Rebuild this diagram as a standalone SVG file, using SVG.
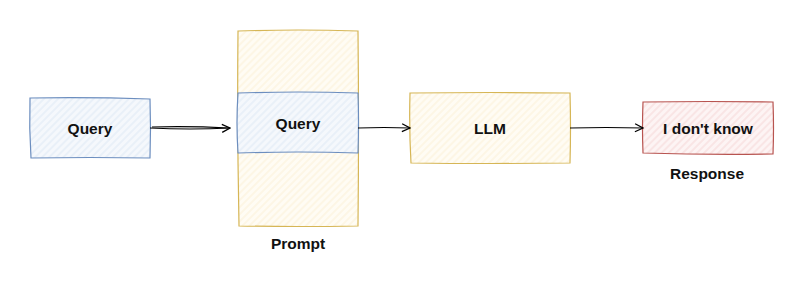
<svg xmlns="http://www.w3.org/2000/svg" width="803" height="282" viewBox="0 0 803 282">
  <defs>
    <pattern id="hb" width="5" height="5" patternUnits="userSpaceOnUse" patternTransform="rotate(45)">
      <rect width="5" height="5" fill="#f5f8fc"/>
      <line x1="1" y1="0" x2="1" y2="5" stroke="#e2ebf6" stroke-width="1.2"/>
    </pattern>
    <pattern id="hy" width="5" height="5" patternUnits="userSpaceOnUse" patternTransform="rotate(45)">
      <rect width="5" height="5" fill="#fffcf4"/>
      <line x1="1" y1="0" x2="1" y2="5" stroke="#fdf3dc" stroke-width="1.2"/>
    </pattern>
    <pattern id="hr" width="5" height="5" patternUnits="userSpaceOnUse" patternTransform="rotate(45)">
      <rect width="5" height="5" fill="#fdf4f4"/>
      <line x1="1" y1="0" x2="1" y2="5" stroke="#f7dcdb" stroke-width="1.2"/>
    </pattern>
    <marker id="arr" viewBox="0 0 10 10" refX="9" refY="5" markerWidth="10" markerHeight="10" markerUnits="userSpaceOnUse" orient="auto">
      <path d="M1,1 L9,5 L1,9" fill="none" stroke="#000" stroke-width="1.3"/>
    </marker>
    <style>
      .t{font-family:"Liberation Sans",Arial,sans-serif;font-weight:bold;font-size:15.5px;fill:#111;text-anchor:middle;dominant-baseline:central}
      .b{stroke:#6c8ebf;stroke-width:1.2}
      .y{stroke:#d6b656;stroke-width:1.2}
      .r{stroke:#b85450;stroke-width:1.2}
      .c{fill:none;stroke:#000;stroke-width:1.2}
    </style>
  </defs>
  <rect width="803" height="282" fill="#fff"/>
  <g id="query1">
    <path class="b" fill="url(#hb)" d="M30,98 Q90,97 150,99 Q151,128 150,158 Q90,157 31,158 Q29,128 30,98 Z"/>
    <text class="t" x="90" y="128">Query</text>
  </g>
  <g id="prompt">
    <path class="y" fill="url(#hy)" d="M238,31 Q298,29 358,31 Q359,128 358,226 Q298,227 239,226 Q237,128 238,31 Z"/>
    <text class="t" x="298" y="243">Prompt</text>
  </g>
  <g id="query2">
    <path class="b" fill="url(#hb)" d="M238,93 Q298,91 358,93 Q359,123 358,153 Q298,151 238,153 Q236,123 238,93 Z"/>
    <text class="t" x="298" y="123">Query</text>
  </g>
  <g id="llm">
    <path class="y" fill="url(#hy)" d="M410,93 Q490,92 570,93 Q571,128 570,163 Q490,164 411,163 Q409,128 410,93 Z"/>
    <text class="t" x="490" y="128">LLM</text>
  </g>
  <g id="response">
    <path class="r" fill="url(#hr)" d="M643,102 Q708,101 773,102 Q774,128 773,154 Q708,155 643,153 Q642,128 643,102 Z"/>
    <text class="t" x="708" y="128">I don't know</text>
    <text class="t" x="707" y="173">Response</text>
  </g>
  <g id="connectors">
    <path class="c" d="M150,128 Q190,130 230,128" marker-end="url(#arr)"/>
    <path class="c" d="M152,127 Q190,126 229,128"/>
    <path class="c" d="M358,128 Q384,127 410,128" marker-end="url(#arr)"/>
    <path class="c" d="M570,128 Q606,127 643,128" marker-end="url(#arr)"/>
  </g>
</svg>
